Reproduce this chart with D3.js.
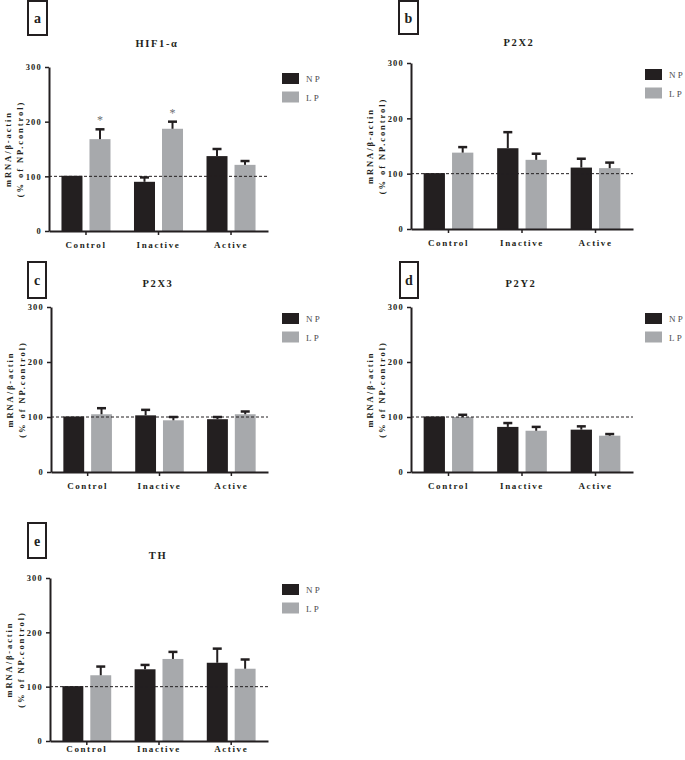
<!DOCTYPE html>
<html>
<head>
<meta charset="utf-8">
<script src="https://cdn.jsdelivr.net/npm/d3@7"></script>
<style>
  html, body { margin: 0; padding: 0; background: #fff; }
  svg { display: block; }
</style>
</head>
<body>
<svg id="chart" width="685" height="760"></svg>
<script>
// ---------- data ----------
const categories = ["Control", "Inactive", "Active"];
const series = ["NP", "LP"];
const panelLetters = ["a", "b", "c", "d", "e"];
const genes = ["HIF1-α", "P2X2", "P2X3", "P2Y2", "TH"];
const yTicks = [0, 100, 200, 300];
const referenceLevel = 100;
const npMeans  = [[101, 90, 137], [101, 146, 111], [101, 103, 96], [101, 82, 77], [101, 132, 144]];
const npErrors = [[0, 8, 13],     [0, 29, 16],     [0, 10, 4],     [0, 7, 6],     [0, 8, 26]];
const lpMeans  = [[168, 187, 121], [138, 125, 110], [105, 94, 105], [100, 75, 66], [121, 151, 133]];
const lpErrors = [[18, 13, 7],     [10, 11, 10],    [11, 6, 5],     [4, 7, 3],     [16, 13, 17]];
const lpStars  = [["*", "*", ""], ["", "", ""], ["", "", ""], ["", "", ""], ["", "", ""]];
const yLabel1 = "mRNA/β-actin";
const yLabel2 = "(% of NP.control)";

// ---------- layout ----------
const layout = [
  { x0: 49,  x1: 268, yTop: 67,  yBot: 231, xPad: 7, box: [28, 1, 19, 34],   title: [157, 47],  legend: [282, 73] },
  { x0: 411, x1: 633, yTop: 63,  yBot: 229, xPad: 7, box: [399, 1, 19, 33],  title: [519, 46],  legend: [645, 69] },
  { x0: 51,  x1: 268, yTop: 307, yBot: 472, xPad: 7, box: [28, 262, 18, 36], title: [158, 287], legend: [282, 313] },
  { x0: 411, x1: 633, yTop: 307, yBot: 472, xPad: 7, box: [400, 262, 18, 36],title: [521, 287], legend: [645, 313] },
  { x0: 50,  x1: 268, yTop: 578, yBot: 741, xPad: 1, box: [28, 523, 18, 35], title: [158, 559], legend: [282, 584] }
];

const colors = { NP: "#231f20", LP: "#a7a9ac" };
const ink = "#231f20";
const serif = "'Liberation Serif', 'DejaVu Serif', serif";

const svg = d3.select("#chart");

panelLetters.forEach((letter, i) => {
  const L = layout[i];
  const g = svg.append("g");

  const x = d3.scaleBand().domain(categories).range([L.x0, L.x1])
    .paddingInner(0.324).paddingOuter(0.172);
  const xs = d3.scaleBand().domain(series).range([0, x.bandwidth()]).paddingInner(0.25);
  const y = d3.scaleLinear().domain([0, 300]).range([L.yBot, L.yTop]);

  // label box
  g.append("rect")
    .attr("x", L.box[0]).attr("y", L.box[1])
    .attr("width", L.box[2]).attr("height", L.box[3])
    .attr("fill", "none").attr("stroke", ink).attr("stroke-width", 2);
  g.append("text")
    .attr("x", L.box[0] + L.box[2] / 2).attr("y", L.box[1] + L.box[3] / 2 + 5)
    .attr("text-anchor", "middle")
    .attr("font-family", serif).attr("font-weight", "bold").attr("font-size", 14)
    .attr("fill", ink).text(letter);

  // title
  g.append("text")
    .attr("x", L.title[0]).attr("y", L.title[1])
    .attr("text-anchor", "middle")
    .attr("font-family", serif).attr("font-weight", "bold").attr("font-size", 10.5)
    .attr("letter-spacing", 1.6)
    .attr("fill", ink).text(genes[i]);

  // rows of data
  const rows = [];
  categories.forEach((c, j) => {
    rows.push({ cat: c, s: "NP", v: npMeans[i][j], e: npErrors[i][j], star: "" });
    rows.push({ cat: c, s: "LP", v: lpMeans[i][j], e: lpErrors[i][j], star: lpStars[i][j] });
  });

  // bars
  g.selectAll("rect.bar").data(rows).join("rect")
    .attr("class", "bar")
    .attr("x", d => x(d.cat) + xs(d.s))
    .attr("width", xs.bandwidth())
    .attr("y", d => y(d.v))
    .attr("height", d => y(0) - y(d.v))
    .attr("fill", d => colors[d.s]);

  // error bars
  const eb = rows.filter(d => d.e > 0);
  g.selectAll("line.err").data(eb).join("line")
    .attr("x1", d => x(d.cat) + xs(d.s) + xs.bandwidth() / 2)
    .attr("x2", d => x(d.cat) + xs(d.s) + xs.bandwidth() / 2)
    .attr("y1", d => y(d.v)).attr("y2", d => y(d.v + d.e))
    .attr("stroke", ink).attr("stroke-width", 2);
  g.selectAll("line.cap").data(eb).join("line")
    .attr("x1", d => x(d.cat) + xs(d.s) + xs.bandwidth() / 2 - 4.5)
    .attr("x2", d => x(d.cat) + xs(d.s) + xs.bandwidth() / 2 + 4.5)
    .attr("y1", d => y(d.v + d.e)).attr("y2", d => y(d.v + d.e))
    .attr("stroke", ink).attr("stroke-width", 2.5);

  // significance stars
  g.selectAll("text.star").data(rows.filter(d => d.star)).join("text")
    .attr("x", d => x(d.cat) + xs(d.s) + xs.bandwidth() / 2)
    .attr("y", d => y(d.v + d.e) - 5)
    .attr("text-anchor", "middle")
    .attr("font-family", serif).attr("font-size", 12)
    .attr("fill", "#6d6e71").text(d => d.star);

  // reference line
  g.append("line")
    .attr("x1", L.x0).attr("x2", L.x1)
    .attr("y1", y(referenceLevel)).attr("y2", y(referenceLevel))
    .attr("stroke", ink).attr("stroke-width", 1).attr("stroke-dasharray", "3,2");

  // y axis
  const ya = g.append("g").attr("transform", `translate(${L.x0},0)`)
    .call(d3.axisLeft(y).tickValues(yTicks).tickSize(4).tickPadding(3).tickSizeOuter(0));
  ya.select(".domain").attr("stroke", ink).attr("stroke-width", 2);
  ya.selectAll(".tick line").attr("stroke", ink).attr("stroke-width", 1.5);
  ya.selectAll(".tick text")
    .attr("font-family", serif).attr("font-weight", "bold").attr("font-size", 8.5)
    .attr("letter-spacing", 1.2).attr("fill", ink);

  // x axis
  const xa = g.append("g").attr("transform", `translate(0,${L.yBot})`)
    .call(d3.axisBottom(x).tickSize(4).tickPadding(L.xPad).tickSizeOuter(0));
  xa.select(".domain").attr("stroke", ink).attr("stroke-width", 2);
  xa.selectAll(".tick line").attr("stroke", ink).attr("stroke-width", 1.5);
  xa.selectAll(".tick text")
    .attr("font-family", serif).attr("font-weight", "bold").attr("font-size", 9)
    .attr("letter-spacing", 1.6).attr("fill", ink);

  // y label
  const cy = (L.yTop + L.yBot) / 2;
  [[yLabel1, L.x0 - 38], [yLabel2, L.x0 - 26]].forEach(([t, bx]) => {
    g.append("text")
      .attr("transform", `translate(${bx},${cy}) rotate(-90)`)
      .attr("text-anchor", "middle")
      .attr("font-family", serif).attr("font-weight", "bold").attr("font-size", 8.5)
      .attr("letter-spacing", 1.9)
      .attr("fill", ink).text(t);
  });

  // legend
  series.forEach((s, k) => {
    const ly = L.legend[1] + k * 18.5;
    g.append("rect")
      .attr("x", L.legend[0]).attr("y", ly)
      .attr("width", 17).attr("height", 11)
      .attr("fill", colors[s]);
    g.append("text")
      .attr("x", L.legend[0] + 24).attr("y", ly + 9)
      .attr("font-family", serif).attr("font-size", 9)
      .attr("letter-spacing", 2.2)
      .attr("fill", "#4d4d4f").text(s);
  });
});
</script>
</body>
</html>
